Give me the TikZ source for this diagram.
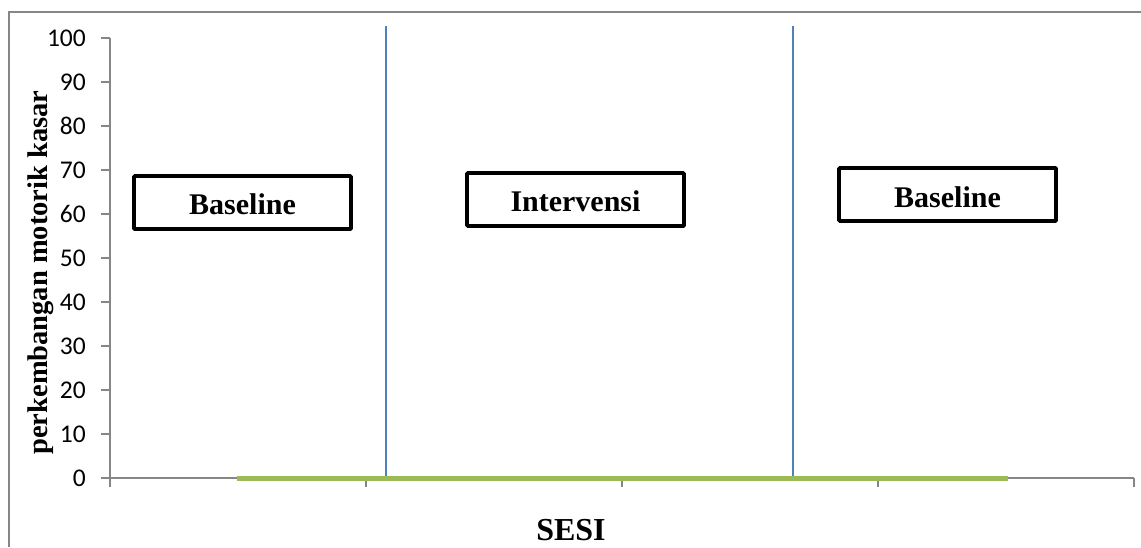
\documentclass[tikz,border=0pt]{standalone}
\usepackage{fontspec}
\setmainfont{Liberation Serif}
\newfontfamily\carl{Carlito}
\definecolor{axisgray}{HTML}{868686}
\definecolor{serblue}{HTML}{4F81BD}
\definecolor{sergreen}{HTML}{9BBB59}
\tikzset{
  axisline/.style={draw=axisgray, line width=1.6pt},
  phaseline/.style={draw=serblue, line width=1.8pt},
  dataline/.style={draw=sergreen, line width=5pt},
  phasebox/.style={draw=black, line width=3.6pt, fill=white, rounded corners=0.8pt, inner sep=0pt, font=\fontsize{30}{32}\selectfont\bfseries},
  ticklabel/.style={anchor=east, inner sep=0pt, font=\carl\fontsize{25.5}{27}\selectfont},
  axistitle/.style={inner sep=0pt, font=\fontsize{28.5}{30}\selectfont\bfseries}
}
\begin{document}
\begin{tikzpicture}[x=1pt, y=-1pt]
\useasboundingbox (0,0) rectangle (1141,547);
% outer chart frame (cropped)
\draw[axisline] (9,547) -- (9,12) -- (1141,12);
% axes
\coordinate (o) at (110,478);
\coordinate (ytop) at (110,38);
\coordinate (xend) at (1134,478);
\draw[axisline] (ytop) -- (o) -- (xend);
\foreach \v in {0,10,...,100} {
  \draw[axisline] (101,{478-4.4*\v}) -- (110,{478-4.4*\v});
  \node[ticklabel] (t\v) at (86,{478-4.4*\v}) {\v};
}
\foreach \i/\x in {0/110,1/366,2/622,3/878,4/1134} {
  \draw[axisline] (\x,478) -- (\x,487);
}
% data line
\coordinate (d1) at (237,478);
\coordinate (d4) at (1008,478);
\draw[dataline] (d1) -- (d4);
% phase change lines
\coordinate (p1top) at (386,26);
\coordinate (p1bot) at (386,476);
\coordinate (p2top) at (793,26);
\coordinate (p2bot) at (793,476);
\draw[phaseline] (p1top) -- (p1bot);
\draw[phaseline] (p2top) -- (p2bot);
% phase boxes
\draw[phasebox] (134,176) rectangle (351,229);
\node[phasebox, draw=none, fill=none, anchor=base] (b1) at (242.5,214) {Baseline};
\draw[phasebox] (467,173) rectangle (684,226);
\node[phasebox, draw=none, fill=none, anchor=base] (b2) at (575.5,211) {Intervensi};
\draw[phasebox] (839,168) rectangle (1056,221);
\node[phasebox, draw=none, fill=none, anchor=base] (b3) at (947.5,207) {Baseline};
% axis titles
\node[axistitle, rotate=90, anchor=base] (ylab) at (47,272.5) {perkembangan motorik kasar};
\node[axistitle, font=\fontsize{32}{34}\selectfont\bfseries, anchor=base] (xlab) at (571,540) {SESI};
\end{tikzpicture}
\end{document}
